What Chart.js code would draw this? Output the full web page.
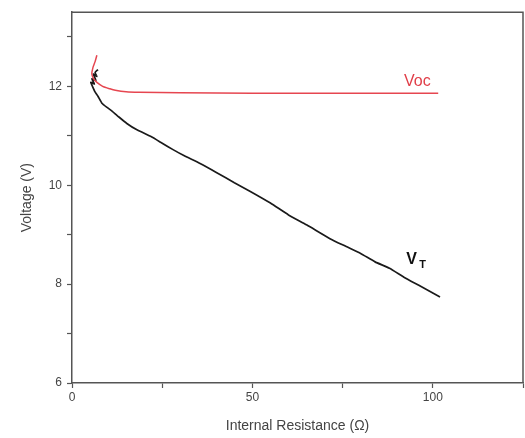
<!DOCTYPE html>
<html lang="en">
<head>
  <meta charset="UTF-8">
  <title>Voltage vs Internal Resistance</title>
  <script src="https://cdn.jsdelivr.net/npm/chart.js"></script>
  <style>
    html, body {
      margin: 0;
      padding: 0;
      background: #fff;
    }
    .wrap {
      width: 525px;
      height: 438px;
    }
  </style>
</head>
<body>
  <div class="wrap"><canvas id="vChart" width="525" height="438"></canvas></div>

  <script>
    // terminal voltage V_T
    const vtRes = [7.2, 6.4, 6.9, 5.9, 6.6, 5.5, 6.2, 5.2, 5.8, 6.3, 7.2, 8.3, 9.6, 11.1, 13, 15.2, 18, 22, 25, 28, 31, 35.5, 40, 45, 49.3, 55, 60, 65, 71.5, 76, 80, 84, 88, 92, 96, 99, 102];
    const vtVolt = [12.34, 12.28, 12.2, 12.25, 12.12, 12.15, 12.05, 12.08, 11.98, 11.9, 11.8, 11.66, 11.58, 11.5, 11.38, 11.25, 11.12, 10.98, 10.85, 10.72, 10.6, 10.44, 10.26, 10.05, 9.88, 9.64, 9.4, 9.2, 8.92, 8.76, 8.62, 8.45, 8.32, 8.14, 7.98, 7.86, 7.74];

    // open circuit voltage Voc
    const vocRes = [6.9, 6.4, 5.8, 5.5, 6.0, 6.9, 8.5, 10.5, 12, 15, 18.6, 30, 50, 70, 90, 101.5];
    const vocVolt = [12.63, 12.5, 12.38, 12.25, 12.15, 12.08, 12.0, 11.95, 11.92, 11.89, 11.88, 11.87, 11.86, 11.86, 11.86, 11.86];

    const xTickLabels = [0, 50, 100];
    const yTickLabels = [6, 8, 10, 12];

    const toPoints = (xs, ys) => xs.map((x, i) => ({ x: x, y: ys[i] }));

    const textColor = '#444';
    const axisColor = '#555';
    const font = 'Liberation Sans, Arial, sans-serif';

    // frame on top/right + curve labels
    const extras = {
      id: 'extras',
      afterDraw(chart) {
        const ctx = chart.ctx;
        const a = chart.chartArea;
        const xs = chart.scales.x, ys = chart.scales.y;
        ctx.save();
        ctx.strokeStyle = axisColor;
        ctx.lineWidth = 1.5;
        ctx.beginPath();
        ctx.moveTo(a.left, a.top);
        ctx.lineTo(a.right, a.top);
        ctx.lineTo(a.right, a.bottom);
        ctx.stroke();

        ctx.textAlign = 'center';
        ctx.textBaseline = 'middle';
        ctx.fillStyle = 'rgb(224,62,72)';
        ctx.font = '16px ' + font;
        ctx.fillText('Voc', xs.getPixelForValue(95.7), ys.getPixelForValue(12.1));

        ctx.fillStyle = '#111';
        ctx.font = 'bold 16px ' + font;
        const vx = xs.getPixelForValue(94.1), vy = ys.getPixelForValue(8.5);
        ctx.fillText('V', vx, vy);
        ctx.font = 'bold 11px ' + font;
        ctx.fillText('T', vx + 11, vy + 6);
        ctx.restore();
      }
    };

    new Chart(document.getElementById('vChart'), {
      type: 'scatter',
      data: {
        datasets: [
          {
            label: 'Voc',
            data: toPoints(vocRes, vocVolt),
            showLine: true,
            borderColor: 'rgb(230,70,80)',
            borderWidth: 1.5,
            pointRadius: 0,
            tension: 0.2
          },
          {
            label: 'VT',
            data: toPoints(vtRes, vtVolt),
            showLine: true,
            borderColor: '#1a1a1a',
            borderWidth: 1.7,
            pointRadius: 0,
            tension: 0.15
          }
        ]
      },
      options: {
        responsive: false,
        animation: false,
        layout: { padding: { top: 12, right: 1, left: 0, bottom: 0 } },
        plugins: {
          legend: { display: false },
          tooltip: { enabled: false }
        },
        scales: {
          x: {
            type: 'linear',
            min: 0,
            max: 125,
            afterFit(scale) { scale.height = 55; },
            border: { color: axisColor, width: 1.5 },
            grid: { drawOnChartArea: false, tickLength: 5, color: axisColor, tickWidth: 1.2 },
            ticks: {
              stepSize: 25,
              includeBounds: false,
              padding: 2,
              color: textColor,
              font: { family: font, size: 12 },
              maxRotation: 0,
              callback: v => xTickLabels.includes(v) ? String(v) : ''
            },
            title: {
              display: true,
              text: 'Internal Resistance (\u03A9)',
              color: textColor,
              font: { family: font, size: 14 },
              padding: { top: 6, bottom: 3 }
            }
          },
          y: {
            type: 'linear',
            min: 6,
            max: 13.5,
            afterFit(scale) { scale.width = 72; },
            border: { color: axisColor, width: 1.5 },
            grid: { drawOnChartArea: false, tickLength: 5, color: axisColor, tickWidth: 1.2 },
            ticks: {
              stepSize: 1,
              includeBounds: false,
              padding: 5,
              color: textColor,
              font: { family: font, size: 12 },
              callback: v => yTickLabels.includes(v) ? String(v) : ''
            },
            title: {
              display: true,
              text: 'Voltage (V)',
              color: textColor,
              font: { family: font, size: 14 },
              padding: { top: 19, bottom: 0 }
            }
          }
        }
      },
      plugins: [extras]
    });
  </script>
</body>
</html>
